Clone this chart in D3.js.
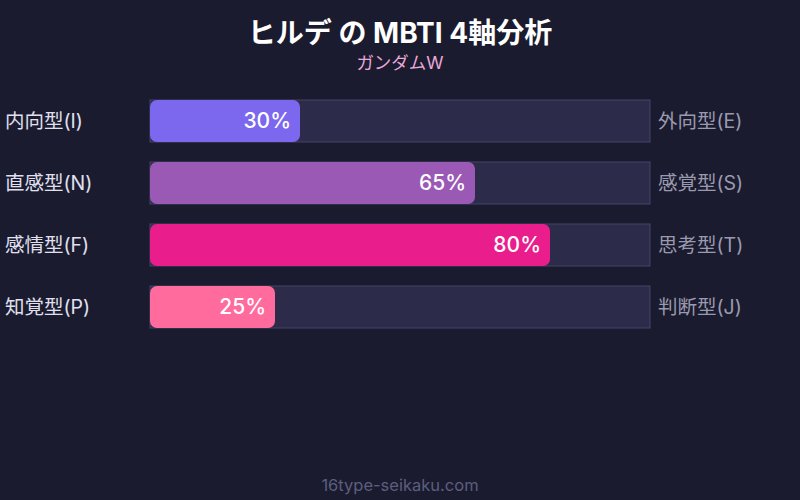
<!DOCTYPE html>
<html>
<head>
<meta charset="utf-8">
<script src="https://cdn.jsdelivr.net/npm/d3@7"></script>
<style>
  body { margin: 0; background: #1a1b2e; }
  svg text { font-family: Inter, "Noto Sans CJK JP", sans-serif; }
</style>
</head>
<body>
<div id="chart"></div>
<script>
// data
var leftLabels = ["内向型(I)", "直感型(N)", "感情型(F)", "知覚型(P)"];
var rightLabels = ["外向型(E)", "感覚型(S)", "思考型(T)", "判断型(J)"];
var values = [30, 65, 80, 25];
var barColors = ["#7b68ee", "#9b59b6", "#e91e8c", "#ff6b9d"];

var width = 800, height = 500;

var svg = d3.select("#chart").append("svg")
    .attr("width", width)
    .attr("height", height);

svg.append("rect")
    .attr("width", width).attr("height", height)
    .attr("fill", "#1a1b2e");

//title
svg.append("text")
    .attr("x", 400).attr("y", 43)
    .attr("text-anchor", "middle")
    .attr("font-size", "28px")
    .attr("font-weight", "bold")
    .attr("fill", "#ffffff")
    .text("ヒルデ の MBTI 4軸分析");

svg.append("text")
    .attr("x", 400).attr("y", 69)
    .attr("text-anchor", "middle")
    .attr("font-size", "17.5px")
    .attr("fill", "#e8a8d8")
    .text("ガンダムW");

var rows = d3.range(values.length);

var x = d3.scaleLinear().domain([0, 100]).range([150, 650]);
// step 62, band 42
var y = d3.scaleBand().domain(rows).range([100, 328]).paddingInner(20 / 62).paddingOuter(0);

var g = svg.selectAll("g.row").data(rows).enter()
    .append("g").attr("class", "row");

// track
g.append("rect")
    .attr("x", x(0))
    .attr("y", function(d) { return y(d); })
    .attr("width", x(100) - x(0))
    .attr("height", y.bandwidth())
    .attr("fill", "#2d2b4a")
    .attr("stroke", "#45446a")
    .attr("stroke-width", 1);

// fill
g.append("rect")
    .attr("x", x(0))
    .attr("y", function(d) { return y(d); })
    .attr("width", function(d) { return x(values[d]) - x(0); })
    .attr("height", y.bandwidth())
    .attr("rx", 7).attr("ry", 7)
    .attr("fill", function(d) { return barColors[d]; });

// value labels
g.append("text")
    .attr("x", function(d) { return x(values[d]) - 9; })
    .attr("y", function(d) { return y(d) + y.bandwidth() / 2; })
    .attr("dy", "0.35em")
    .attr("text-anchor", "end")
    .attr("font-size", "21px")
    .attr("font-weight", "500")
    .attr("fill", "#ffffff")
    .text(function(d) { return values[d] + "%"; });

g.append("text")
    .attr("x", 5)
    .attr("y", function(d) { return y(d) + y.bandwidth() / 2; })
    .attr("dy", "0.35em")
    .attr("font-size", "19.5px")
    .attr("fill", "#e0e0f0")
    .text(function(d) { return leftLabels[d]; });

g.append("text")
    .attr("x", 658)
    .attr("y", function(d) { return y(d) + y.bandwidth() / 2; })
    .attr("dy", "0.35em")
    .attr("font-size", "19.5px")
    .attr("fill", "#9a9aae")
    .text(function(d) { return rightLabels[d]; });

// footer
svg.append("text")
    .attr("x", 400).attr("y", 491)
    .attr("text-anchor", "middle")
    .attr("font-size", "16.5px")
    .attr("fill", "#5c5e80")
    .text("16type-seikaku.com");
</script>
</body>
</html>
